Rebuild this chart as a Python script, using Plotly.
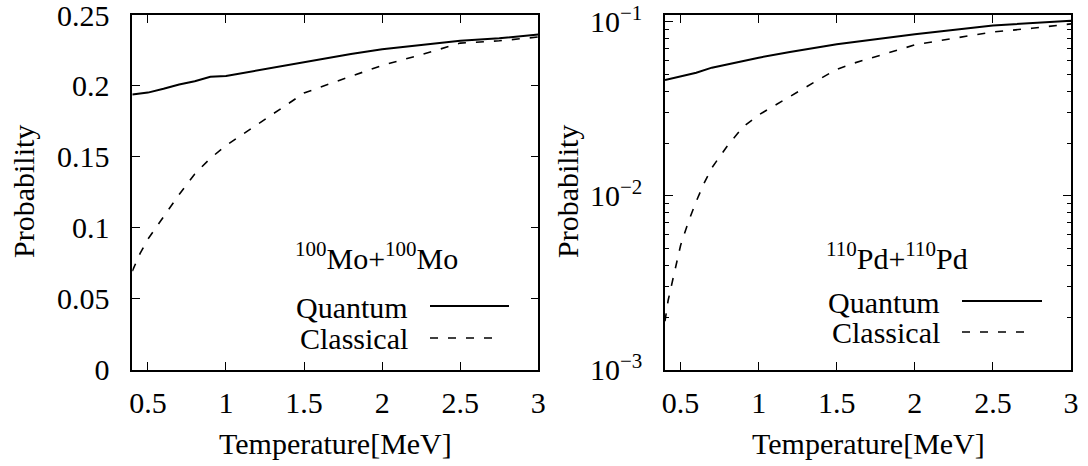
import plotly.graph_objects as go

W, H = 1088, 466

# ---- data ----
t_q_mo = [0.4, 0.5, 0.6, 0.7, 0.8, 0.9, 1.0, 1.2, 1.5, 1.8, 2.0, 2.2, 2.5, 2.75, 3.0]
p_q_mo = [0.194, 0.1953, 0.198, 0.201, 0.2033, 0.2064, 0.207, 0.211, 0.2168, 0.2225,
          0.2258, 0.2282, 0.2318, 0.2336, 0.2362]
t_c_mo = [0.4, 0.45, 0.5, 0.6, 0.7, 0.8, 0.9, 1.0, 1.2, 1.4, 1.5, 1.6, 1.8, 2.0, 2.25,
          2.5, 2.75, 3.0]
p_c_mo = [0.0695, 0.082, 0.092, 0.108, 0.1235, 0.138, 0.149, 0.158, 0.173, 0.188, 0.195,
          0.199, 0.2065, 0.2145, 0.222, 0.2302, 0.2318, 0.2345]

t_q_pd = [0.4, 0.5, 0.6, 0.7, 0.8, 0.9, 1.0, 1.2, 1.5, 2.0, 2.5, 3.0]
p_q_pd = [0.0463, 0.0485, 0.051, 0.0546, 0.0572, 0.0598, 0.0623, 0.0671, 0.0744,
          0.085, 0.0955, 0.1015]
t_c_pd = [0.4, 0.42, 0.45, 0.5, 0.55, 0.6, 0.65, 0.7, 0.8, 0.9, 1.0, 1.2, 1.4, 1.5,
          1.6, 1.8, 2.0, 2.25, 2.5, 2.75, 3.0]
p_c_pd = [0.0019, 0.0025, 0.0033, 0.0052, 0.0071, 0.0093, 0.0118, 0.0145, 0.0194,
          0.0249, 0.0292, 0.0374, 0.0475, 0.0534, 0.0576, 0.0652, 0.0738, 0.0806,
          0.0875, 0.092, 0.0975]

x_ticks = [0.5, 1, 1.5, 2, 2.5, 3]
x_ticklabels = ["0.5", "1", "1.5", "2", "2.5", "3"]
y1_ticks = [0, 0.05, 0.1, 0.15, 0.2, 0.25]
y1_ticklabels = ["0", "0.05", "0.1", "0.15", "0.2", "0.25"]
y2_ticks = [0.001, 0.01, 0.1]
y2_ticklabels = ["10<sup>−3</sup>", "10<sup>−2</sup>", "10<sup>−1</sup>"]
y2_minor = [k * 0.001 for k in range(2, 10)] + [k * 0.01 for k in range(2, 10)]

x_title = "Temperature[MeV]"
y_title = "Probability"
label_mo = "<sup>100</sup>Mo+<sup>100</sup>Mo"
label_pd = "<sup>110</sup>Pd+<sup>110</sup>Pd"
legend_names = ["Quantum", "Classical"]

FONT = "Liberation Serif"
FS = 30


def px(x):
    return x / W


def py(y):
    return 1 - y / H


fig = go.Figure()
solid = dict(color="black", width=2)
dashed = dict(color="black", width=1.6, dash="8px,10px")

fig.add_trace(go.Scatter(x=t_q_mo, y=p_q_mo, mode="lines", line=solid,
                         xaxis="x", yaxis="y", showlegend=False))
fig.add_trace(go.Scatter(x=t_c_mo, y=p_c_mo, mode="lines", line=dashed,
                         xaxis="x", yaxis="y", showlegend=False))
fig.add_trace(go.Scatter(x=t_q_pd, y=p_q_pd, mode="lines", line=solid,
                         xaxis="x2", yaxis="y2", showlegend=False))
fig.add_trace(go.Scatter(x=t_c_pd, y=p_c_pd, mode="lines", line=dashed,
                         xaxis="x2", yaxis="y2", showlegend=False))

axis_common = dict(showline=True, linecolor="black", linewidth=1.5, mirror="ticks",
                   ticks="inside", ticklen=8, tickwidth=1, tickcolor="black",
                   showgrid=False, zeroline=False, automargin=False,
                   ticklabeloverflow="allow",
                   tickfont=dict(family=FONT, size=FS, color="black"))

xdom1 = [px(132.3), px(538.3)]
xdom2 = [px(665), px(1071)]
ydom = [py(369.7), py(15)]

fig.update_layout(
    template="none",
    width=W, height=H,
    margin=dict(l=0, r=0, t=0, b=0, pad=0, autoexpand=False),
    paper_bgcolor="white", plot_bgcolor="white",
    font=dict(family=FONT, size=FS, color="black"),
    xaxis=dict(domain=xdom1, range=[0.4, 3], tickvals=x_ticks, ticktext=x_ticklabels,
               anchor="y", ticklabelstandoff=6, **axis_common),
    yaxis=dict(domain=ydom, range=[0, 0.25], tickvals=y1_ticks, ticktext=y1_ticklabels,
               anchor="x", ticklabelstandoff=15, **axis_common),
    xaxis2=dict(domain=xdom2, range=[0.4, 3], tickvals=x_ticks, ticktext=x_ticklabels,
                anchor="y2", ticklabelstandoff=6, **axis_common),
    yaxis2=dict(domain=ydom, type="log", range=[-3, -0.96], tickvals=y2_ticks,
                ticktext=y2_ticklabels, anchor="x2", ticklabelstandoff=15,
                minor=dict(tickvals=y2_minor, ticks="inside", ticklen=4,
                           tickwidth=1, tickcolor="black", showgrid=False),
                **axis_common),
    showlegend=False,
)

ann = []
# axis titles
for cx, cy in [(335, 443), (868, 443)]:
    ann.append(dict(x=px(cx), y=py(cy), xref="paper", yref="paper", text=x_title,
                    showarrow=False, xanchor="center", yanchor="middle",
                    font=dict(family=FONT, size=FS, color="black")))
for cx in [23, 567]:
    ann.append(dict(x=px(cx), y=py(192), xref="paper", yref="paper", text=y_title,
                    showarrow=False, xanchor="center", yanchor="middle", textangle=-90,
                    font=dict(family=FONT, size=FS, color="black")))
# reaction labels
ann.append(dict(x=px(376), y=py(256), xref="paper", yref="paper", text=label_mo,
                showarrow=False, xanchor="center", yanchor="middle",
                font=dict(family=FONT, size=FS, color="black")))
ann.append(dict(x=px(897), y=py(256), xref="paper", yref="paper", text=label_pd,
                showarrow=False, xanchor="center", yanchor="middle",
                font=dict(family=FONT, size=FS, color="black")))
# legend texts
for (rx, yq, yc) in [(410, 307, 338), (942, 302, 332)]:
    for name, yy in zip(legend_names, [yq, yc]):
        ann.append(dict(x=px(rx), y=py(yy), xref="paper", yref="paper", text=name,
                        showarrow=False, xanchor="right", yanchor="middle",
                        font=dict(family=FONT, size=FS, color="black")))

shapes = []
for (x0, x1s, x1d, yq, yc) in [(430, 509, 500, 306, 338), (962, 1042, 1034, 301, 332)]:
    shapes.append(dict(type="line", xref="paper", yref="paper", x0=px(x0), x1=px(x1s),
                       y0=py(yq), y1=py(yq), line=solid))
    shapes.append(dict(type="line", xref="paper", yref="paper", x0=px(x0), x1=px(x1d),
                       y0=py(yc), y1=py(yc), line=dashed))

fig.update_layout(annotations=ann, shapes=shapes)
fig.write_html("out.html",
               config={"displayModeBar": False},
               post_script="document.body.style.margin='0';"
                           "document.body.style.overflow='hidden';")
